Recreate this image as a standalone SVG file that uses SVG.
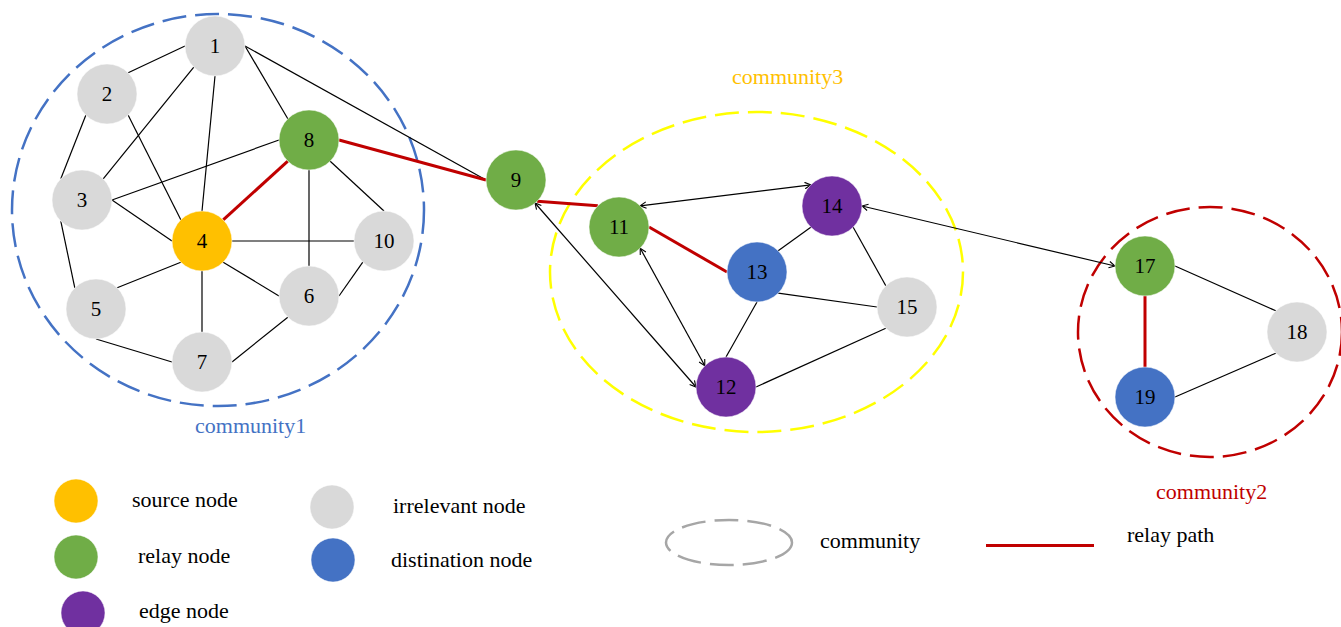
<svg xmlns="http://www.w3.org/2000/svg" width="1341" height="627" viewBox="0 0 1341 627">
<style>
.e{stroke:#000;stroke-width:1.2;fill:none}
.a{stroke:#000;stroke-width:1.2;fill:none;marker-start:url(#arr);marker-end:url(#arr)}
.r{stroke:#C00000;stroke-width:3;fill:none}
.n{stroke:#ffffff;stroke-opacity:0.5;stroke-width:1}
.src{fill:#FFC000}.rel{fill:#70AD47}.edg{fill:#7030A0}.irr{fill:#D9D9D9}.dst{fill:#4472C4}
.lb{font-family:"Liberation Serif","Times New Roman",serif;font-size:21px;text-anchor:middle;fill:#000}
.t{font-family:"Liberation Serif","Times New Roman",serif;font-size:22px;fill:#000}
.com{fill:none;stroke-width:2.5;stroke-dasharray:24 9}
</style>
<defs>
<marker id="arr" viewBox="0 0 10 10" refX="9.5" refY="5" markerWidth="8" markerHeight="8" markerUnits="userSpaceOnUse" orient="auto-start-reverse">
<path d="M2,1 L9.5,5 L2,9" fill="none" stroke="#000" stroke-width="1.4"/>
</marker>
</defs>
<rect width="1341" height="627" fill="#fff"/>

<g id="communities">
<ellipse class="com" cx="218" cy="210" rx="206" ry="196" stroke="#4472C4"/>
<ellipse class="com" cx="756.5" cy="272" rx="206.5" ry="160" stroke="#FFFF00"/>
<ellipse class="com" cx="1210" cy="332" rx="132" ry="125" stroke="#C00000"/>
<text class="t" x="195" y="433" style="fill:#4472C4">community1</text>
<text class="t" x="732" y="84" style="fill:#FFC000">community3</text>
<text class="t" x="1156" y="499" style="fill:#C00000">community2</text>
</g>

<g id="connectors">
<line class="e" x1="185" y1="46" x2="128.2" y2="72.8"/>
<line class="e" x1="193.8" y1="67.2" x2="103.2" y2="178.8"/>
<line class="e" x1="215" y1="76" x2="202" y2="211"/>
<line class="e" x1="245" y1="46" x2="287.8" y2="118.8"/>
<line class="e" x1="245" y1="46" x2="486" y2="180"/>
<line class="e" x1="85.8" y1="115.2" x2="60.8" y2="178.8"/>
<line class="e" x1="128.2" y1="115.2" x2="180.8" y2="219.8"/>
<line class="e" x1="112" y1="200" x2="279" y2="140"/>
<line class="e" x1="112" y1="200" x2="172" y2="241"/>
<line class="e" x1="60.8" y1="221.2" x2="74.8" y2="287.8"/>
<line class="e" x1="232" y1="241" x2="354" y2="241"/>
<line class="e" x1="180.8" y1="262.2" x2="117.2" y2="287.8"/>
<line class="e" x1="223.2" y1="262.2" x2="279" y2="296"/>
<line class="e" x1="202" y1="271" x2="202" y2="332"/>
<line class="e" x1="96" y1="339" x2="172" y2="362"/>
<line class="e" x1="287.8" y1="317.2" x2="232" y2="362"/>
<line class="e" x1="339" y1="296" x2="362.8" y2="262.2"/>
<line class="e" x1="309" y1="170" x2="309" y2="266"/>
<line class="e" x1="330.2" y1="161.2" x2="384" y2="211"/>
<line class="r" x1="223.2" y1="219.8" x2="287.8" y2="161.2"/>
<line class="r" x1="339" y1="140" x2="486" y2="180"/>
<line class="r" x1="537.2" y1="201.2" x2="597.8" y2="205.8"/>
<line class="a" x1="535" y1="203" x2="696" y2="387"/>
<line class="a" x1="640.2" y1="205.8" x2="810.8" y2="184.8"/>
<line class="a" x1="640.2" y1="248.2" x2="704.8" y2="365.8"/>
<line class="r" x1="649" y1="227" x2="727" y2="272"/>
<line class="e" x1="778.2" y1="250.8" x2="810.8" y2="227.2"/>
<line class="e" x1="778.2" y1="293.2" x2="877" y2="307"/>
<line class="e" x1="757" y1="302" x2="726" y2="357"/>
<line class="e" x1="853.2" y1="227.2" x2="885.8" y2="285.8"/>
<line class="e" x1="756" y1="387" x2="885.8" y2="328.2"/>
<line class="a" x1="862" y1="206" x2="1115" y2="266"/>
<line class="e" x1="1175" y1="266" x2="1275.8" y2="310.8"/>
<line class="e" x1="1175" y1="397" x2="1275.8" y2="353.2"/>
<line class="r" x1="1145" y1="296" x2="1145" y2="367"/>
</g>

<g id="node1"><circle class="n irr" cx="215" cy="46" r="30"/><text class="lb" x="215" y="53">1</text></g>
<g id="node2"><circle class="n irr" cx="107" cy="94" r="30"/><text class="lb" x="107" y="101">2</text></g>
<g id="node3"><circle class="n irr" cx="82" cy="200" r="30"/><text class="lb" x="82" y="207">3</text></g>
<g id="node4"><circle class="n src" cx="202" cy="241" r="30"/><text class="lb" x="202" y="248">4</text></g>
<g id="node5"><circle class="n irr" cx="96" cy="309" r="30"/><text class="lb" x="96" y="316">5</text></g>
<g id="node6"><circle class="n irr" cx="309" cy="296" r="30"/><text class="lb" x="309" y="303">6</text></g>
<g id="node7"><circle class="n irr" cx="202" cy="362" r="30"/><text class="lb" x="202" y="369">7</text></g>
<g id="node8"><circle class="n rel" cx="309" cy="140" r="30"/><text class="lb" x="309" y="147">8</text></g>
<g id="node9"><circle class="n rel" cx="516" cy="180" r="30"/><text class="lb" x="516" y="187">9</text></g>
<g id="node10"><circle class="n irr" cx="384" cy="241" r="30"/><text class="lb" x="384" y="248">10</text></g>
<g id="node11"><circle class="n rel" cx="619" cy="227" r="30"/><text class="lb" x="619" y="234">11</text></g>
<g id="node12"><circle class="n edg" cx="726" cy="387" r="30"/><text class="lb" x="726" y="394">12</text></g>
<g id="node13"><circle class="n dst" cx="757" cy="272" r="30"/><text class="lb" x="757" y="279">13</text></g>
<g id="node14"><circle class="n edg" cx="832" cy="206" r="30"/><text class="lb" x="832" y="213">14</text></g>
<g id="node15"><circle class="n irr" cx="907" cy="307" r="30"/><text class="lb" x="907" y="314">15</text></g>
<g id="node17"><circle class="n rel" cx="1145" cy="266" r="30"/><text class="lb" x="1145" y="273">17</text></g>
<g id="node18"><circle class="n irr" cx="1297" cy="332" r="30"/><text class="lb" x="1297" y="339">18</text></g>
<g id="node19"><circle class="n dst" cx="1145" cy="397" r="30"/><text class="lb" x="1145" y="404">19</text></g>

<g id="legend">
<circle class="n src" cx="76" cy="501" r="22"/><text class="t" x="132" y="507">source node</text>
<circle class="n rel" cx="76" cy="557" r="22"/><text class="t" x="138" y="563">relay node</text>
<circle class="n edg" cx="83" cy="613" r="22"/><text class="t" x="139" y="618">edge node</text>
<circle class="n irr" cx="332" cy="507" r="22"/><text class="t" x="393" y="513">irrelevant node</text>
<circle class="n dst" cx="333" cy="560" r="22"/><text class="t" x="391" y="567">distination node</text>
<ellipse class="com" cx="729" cy="542.5" rx="63" ry="22.5" stroke="#A6A6A6"/><text class="t" x="820" y="548">community</text>
<line class="r" x1="986" y1="545.5" x2="1094" y2="545.5"/><text class="t" x="1127" y="542">relay path</text>
</g>
</svg>
